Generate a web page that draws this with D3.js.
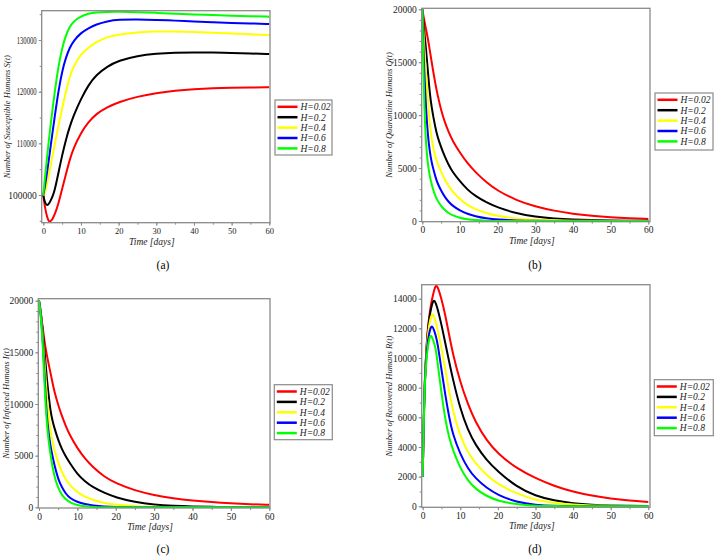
<!DOCTYPE html>
<html><head><meta charset="utf-8">
<script src="https://cdn.jsdelivr.net/npm/d3@7"></script>
<style>body{margin:0;background:#fff}svg{display:block}</style>
</head><body><svg id="chart" width="715" height="557"></svg>
<script>
// ---------- data ----------
const days = [0,0.25,0.5,1,1.5,2,2.5,3,3.5,4,5,6,7,8,10,12,14,17,20,25,30,35,40,45,50,55,60];
const seriesLabels = ["H=0.02","H=0.2","H=0.4","H=0.6","H=0.8"];
const seriesColors = ["#ff0000","#000000","#ffff00","#0000ff","#00ff00"];
const xTickValues = [0,10,20,30,40,50,60];

// (a) Susceptible S(t)
const susRed    = [100000,98600,97400,95700,94750,94950,95400,96200,97200,98300,101200,104000,106800,109000,112100,114100,115700,117000,118000,119050,119750,120200,120500,120700,120780,120820,120840];
const susBlack  = [100000,99000,98500,97900,98300,99000,99800,100900,102500,104200,107700,110700,113200,115300,118600,121300,123200,124900,126000,126950,127350,127550,127620,127580,127480,127380,127290];
const susYellow = [100000,100050,100500,102100,104000,106000,107800,109600,111500,113300,116800,120000,122900,124900,127300,128500,129600,130600,131100,131470,131680,131650,131550,131400,131250,131100,130970];
const susBlue   = [100000,100900,102000,104300,107000,109700,112400,115000,117500,120000,124000,126600,128500,129800,131400,132300,133000,133650,133950,134000,133900,133750,133600,133450,133300,133200,133100];
const susGreen  = [100000,101900,103800,107300,110800,113900,116900,119700,122300,124800,128500,130900,132600,133600,134600,135150,135350,135450,135470,135400,135250,135100,134950,134820,134700,134600,134510];
const susTicks  = [100000,110000,120000,130000];

// (b) Quarantine Q(t)
const quaRed    = [20000,19500,19000,18100,17200,16100,15000,13900,12900,12000,10450,9300,8400,7600,6450,5450,4650,3650,2850,1950,1360,960,680,490,355,265,195];
const quaBlack  = [20000,19000,18000,16200,14100,12000,10700,9700,8800,8000,6950,6050,5300,4650,3750,2950,2380,1750,1270,720,410,235,135,80,48,30,20];
const quaYellow = [20000,18200,16500,13800,11300,9000,7700,6700,6000,5500,4650,3900,3300,2800,2050,1500,1120,730,470,225,110,55,28,15,8,4,2];
const quaBlue   = [20000,16800,14300,10500,8000,6500,5500,4800,4150,3600,2850,2250,1800,1450,980,670,450,240,130,45,15,5,0,0,0,0,0];
const quaGreen  = [20000,15000,11000,7000,5300,4200,3450,2800,2350,1950,1400,1020,740,540,290,150,80,30,10,0,0,0,0,0,0,0,0];
const quaTicks  = [0,5000,10000,15000,20000];

// (c) Infected I(t)
const infRed    = [20000,19500,18800,17300,15900,14800,13900,13000,12100,11200,9900,8800,7850,7000,5700,4700,3900,2950,2320,1620,1175,870,658,502,387,300,235];
const infBlack  = [20000,19400,18700,17000,14900,12600,10900,9300,8400,7700,6500,5600,4900,4300,3200,2500,1950,1400,950,500,260,140,80,45,25,15,10];
const infYellow = [20000,19300,18600,16600,13600,10900,9000,7400,6400,5500,4300,3350,2700,2150,1450,1000,700,400,240,100,40,15,5,0,0,0,0];
const infBlue   = [20000,19300,18500,16200,12300,8900,7200,5900,5000,4100,2700,1900,1300,900,500,300,170,70,30,5,0,0,0,0,0,0,0];
const infGreen  = [20000,19200,18400,15800,11200,8300,6400,5060,3950,3000,1840,1150,750,480,200,80,30,10,0,0,0,0,0,0,0,0,0];
const infTicks  = [0,5000,10000,15000,20000];

// (d) Recovered R(t)
const recRed    = [2000,5500,8300,10800,12400,13300,14000,14550,14950,14800,14000,12900,11600,10300,8350,6900,5700,4430,3550,2550,1900,1360,980,710,520,385,290];
const recBlack  = [2000,5500,8250,10700,12200,13100,13650,13950,13700,13300,12250,11000,9800,8600,6550,5150,4150,3100,2350,1300,700,380,200,105,55,30,18];
const recYellow = [2000,5400,8200,10500,11900,12600,13050,12800,12400,11900,10650,9250,7800,6450,4700,3650,2900,2100,1480,850,420,220,110,55,30,15,10];
const recBlue   = [2000,5300,8100,10300,11400,12000,12200,11900,11500,10950,9200,7500,6050,4850,3500,2550,1900,1230,760,280,90,30,10,0,0,0,0];
const recGreen  = [2000,5200,8000,10000,11000,11600,11400,11050,10600,9600,7600,5850,4650,3800,2550,1750,1180,680,370,120,35,10,0,0,0,0,0];
const recTicks  = [0,2000,4000,6000,8000,10000,12000,14000];

// ---------- layout ----------
const panels = [
  {series:[susRed,susBlack,susYellow,susBlue,susGreen], yTicks:susTicks, minor:5000,
   yDom:[100000,130000], yRng:[195,40], xRng:[43.3,269.3], frame:[41.7,270,10.7,222.7], xFont:8.5, narrowY:true,
   yTitle:"Number of Susceptible Humans S(t)", yTitleX:7, legend:[275,100,57,55], caption:"(a)", capX:163, capY:269},
  {series:[quaRed,quaBlack,quaYellow,quaBlue,quaGreen], yTicks:quaTicks, minor:1000,
   yDom:[0,20000], yRng:[221,9.3], xRng:[422.3,648.3], frame:[421.7,650,8.3,221.7], xFont:9.5, narrowY:false,
   yTitle:"Number of Quarantine Humans Q(t)", yTitleX:389, legend:[655,93,58,57], caption:"(b)", capX:535, capY:269},
  {series:[infRed,infBlack,infYellow,infBlue,infGreen], yTicks:infTicks, minor:1000,
   yDom:[0,20000], yRng:[507.3,300.7], xRng:[39,269.3], frame:[38.3,270,298.7,508], xFont:9.5, narrowY:false,
   yTitle:"Number of Infected Humans I(t)", yTitleX:6, legend:[274.3,384.7,58,55], caption:"(c)", capX:163, capY:553},
  {series:[recRed,recBlack,recYellow,recBlue,recGreen], yTicks:recTicks, minor:1000,
   yDom:[0,14000], yRng:[506.3,298.7], xRng:[422.7,648.3], frame:[421.7,650,284.7,507.3], xFont:9.5, narrowY:false,
   yTitle:"Number of Recovered Humans R(t)", yTitleX:389, legend:[654.3,379.7,59,56], caption:"(d)", capX:535, capY:553}
];

const svg = d3.select("#chart");
const SERIF = "'Liberation Serif','DejaVu Serif',serif";
const frameCol = "#8a8a8a";

panels.forEach((p, pi) => {
  const [fx0, fx1, fy0, fy1] = p.frame;
  const x = d3.scaleLinear().domain([0,60]).range(p.xRng);
  const y = d3.scaleLinear().domain(p.yDom).range(p.yRng);
  const g = svg.append("g");

  const cid = "clip" + pi;
  svg.append("defs").append("clipPath").attr("id", cid)
    .append("rect").attr("x", fx0).attr("y", fy0).attr("width", fx1 - fx0).attr("height", fy1 - fy0);

  // minor ticks
  const yLo = y.invert(fy1), yHi = y.invert(fy0);
  const yMinor = d3.range(Math.ceil(yLo / p.minor) * p.minor, yHi, p.minor);
  const xMinor = d3.range(0, 60.01, 5);
  g.append("g").attr("transform", `translate(${fx0},0)`)
    .call(d3.axisLeft(y).tickValues(yMinor).tickSize(2).tickFormat(""))
    .call(a => a.select(".domain").remove())
    .selectAll("line").attr("stroke", frameCol);
  g.append("g").attr("transform", `translate(0,${fy1})`)
    .call(d3.axisBottom(x).tickValues(xMinor).tickSize(2).tickFormat(""))
    .call(a => a.select(".domain").remove())
    .selectAll("line").attr("stroke", frameCol);

  // major ticks + labels
  const ya = g.append("g").attr("transform", `translate(${fx0},0)`)
    .call(d3.axisLeft(y).tickValues(p.yTicks).tickSize(3).tickPadding(2).tickFormat(d3.format("d")));
  ya.select(".domain").remove();
  ya.selectAll("line").attr("stroke", frameCol);
  ya.selectAll("text").attr("font-family", SERIF).attr("font-size", "9.5px").attr("fill", "#222");
  if (p.narrowY) {
    ya.selectAll("text").filter(d => d !== 100000)
      .attr("textLength", 20).attr("lengthAdjust", "spacingAndGlyphs");
  }

  const xa = g.append("g").attr("transform", `translate(0,${fy1})`)
    .call(d3.axisBottom(x).tickValues(xTickValues).tickSize(3).tickPadding(2).tickFormat(d3.format("d")));
  xa.select(".domain").remove();
  xa.selectAll("line").attr("stroke", frameCol);
  xa.selectAll("text").attr("font-family", SERIF).attr("font-size", p.xFont + "px").attr("fill", "#222");

  // curves
  const line = d3.line().x((d, i) => x(days[i])).y(d => y(d)).curve(d3.curveBasis);
  const cg = g.append("g").attr("clip-path", `url(#${cid})`);
  p.series.forEach((s, si) => {
    cg.append("path").attr("d", line(s)).attr("fill", "none")
      .attr("stroke", seriesColors[si]).attr("stroke-width", 2).attr("stroke-linejoin", "round");
  });

  // frame
  g.append("rect").attr("x", fx0).attr("y", fy0).attr("width", fx1 - fx0).attr("height", fy1 - fy0)
    .attr("fill", "none").attr("stroke", frameCol).attr("stroke-width", 1.3);

  // axis titles
  g.append("text").attr("x", (fx0 + fx1) / 2 - 4).attr("y", fy1 + 22)
    .attr("text-anchor", "middle").attr("font-family", SERIF).attr("font-style", "italic")
    .attr("font-size", "9.5px").attr("fill", "#222").text("Time [days]");
  const cy = (fy0 + fy1) / 2;
  g.append("text").attr("transform", `translate(${p.yTitleX + 3},${cy}) rotate(-90)`)
    .attr("text-anchor", "middle").attr("font-family", SERIF).attr("font-style", "italic")
    .attr("font-size", "8.6px").attr("fill", "#222").text(p.yTitle);

  // legend
  const [lx, ly, lw, lh] = p.legend;
  const lg = g.append("g");
  lg.append("rect").attr("x", lx).attr("y", ly).attr("width", lw).attr("height", lh)
    .attr("fill", "#fff").attr("stroke", frameCol).attr("stroke-width", 1.2);
  seriesLabels.forEach((lab, i) => {
    const ry = ly + 6.8 + i * 10.4;
    lg.append("line").attr("x1", lx + 2.5).attr("x2", lx + 22.5).attr("y1", ry).attr("y2", ry)
      .attr("stroke", seriesColors[i]).attr("stroke-width", 2.5);
    lg.append("text").attr("x", lx + 25.5).attr("y", ry + 3.3)
      .attr("font-family", SERIF).attr("font-style", "italic").attr("font-size", "9.5px")
      .attr("fill", "#222").text(lab);
  });

  // caption
  svg.append("text").attr("x", p.capX).attr("y", p.capY).attr("text-anchor", "middle")
    .attr("font-family", SERIF).attr("font-size", "11.5px").attr("fill", "#000").text(p.caption);
});
</script>
</body></html>
